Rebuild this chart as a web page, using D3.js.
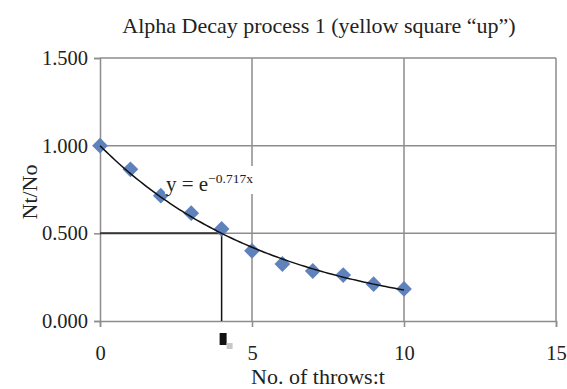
<!DOCTYPE html>
<html><head><meta charset="utf-8">
<script src="https://cdn.jsdelivr.net/npm/d3@7"></script>
<style>body{margin:0;background:#fff}svg{display:block}text{font-family:"Liberation Serif","Times New Roman",serif;fill:#222}</style>
</head><body><svg id="c" width="567" height="389"></svg>
<script>
const title = "Alpha Decay process 1 (yellow square \u201cup\u201d)";
const xLabel = "No. of throws:t";
const yLabel = "Nt/No";
const throws = [0,1,2,3,4,5,6,7,8,9,10];
const ratio = [1.0,0.865,0.715,0.615,0.525,0.40,0.325,0.285,0.262,0.21,0.183];
const xTicks = [0,5,10,15];
const yTicks = [0,0.5,1.0,1.5];
const eqText = "y = e", eqExp = "\u22120.717x";

const svg = d3.select("#c");
const m = {l:100,r:11,t:58,b:68};
const W = 567, H = 389;
const x = d3.scaleLinear().domain([0,15]).range([m.l, W-m.r]);
const y = d3.scaleLinear().domain([0,1.5]).range([H-m.b, m.t]);
const grid = "#8f8b8f";

// gridlines
svg.append("g").selectAll("line").data(yTicks.filter(d=>d>0)).join("line")
  .attr("x1",x(0)).attr("x2",x(15)).attr("y1",d=>y(d)).attr("y2",d=>y(d))
  .attr("stroke",grid).attr("stroke-width",1.5);
svg.append("g").selectAll("line").data(xTicks.filter(d=>d>0)).join("line")
  .attr("y1",y(0)).attr("y2",y(1.5)).attr("x1",d=>x(d)).attr("x2",d=>x(d))
  .attr("stroke",grid).attr("stroke-width",1.5);

// axes
const xa = svg.append("g").attr("transform",`translate(0,${y(0)})`)
  .call(d3.axisBottom(x).tickValues(xTicks).tickSize(6).tickPadding(18).tickFormat(d3.format("d")));
const ya = svg.append("g").attr("transform",`translate(${x(0)},0)`)
  .call(d3.axisLeft(y).tickValues(yTicks).tickSize(6).tickPadding(6).tickFormat(d3.format(".3f")));
[xa,ya].forEach(a=>{
  a.select(".domain").attr("stroke",grid).attr("stroke-width",1.5);
  a.selectAll(".tick line").attr("stroke",grid).attr("stroke-width",1.5);
  a.selectAll(".tick text").attr("font-size",20.5).attr("font-family","Liberation Serif, serif").attr("fill","#222");
});

// exponential fit through origin in log space
const b = d3.sum(throws,(t,i)=>t*Math.log(ratio[i]))/d3.sum(throws,t=>t*t);
const tHalf = Math.log(0.5)/b;

// half-life guides
svg.append("line").attr("x1",x(0)).attr("x2",x(tHalf)).attr("y1",y(0.5)).attr("y2",y(0.5))
  .attr("stroke","#3a3636").attr("stroke-width",2);
svg.append("line").attr("x1",x(tHalf)).attr("x2",x(tHalf)).attr("y1",y(0.5)).attr("y2",y(0))
  .attr("stroke","#111").attr("stroke-width",1.5);
svg.append("rect").attr("x",x(tHalf)-2).attr("y",y(0)+12).attr("width",7).attr("height",12).attr("fill","#111");
svg.append("rect").attr("x",x(tHalf)+5).attr("y",y(0)+22).attr("width",6).attr("height",6).attr("fill","#c8c8c8");

// points
svg.append("g").selectAll("path").data(throws).join("path")
  .attr("d",d3.symbol(d3.symbolSquare,125))
  .attr("transform",(t,i)=>`translate(${x(t)},${y(ratio[i])}) rotate(45)`)
  .attr("fill","#5f82bd");

// trend line
const tt = d3.range(0,10.001,0.1);
svg.append("path").datum(tt)
  .attr("d",d3.line().x(t=>x(t)).y(t=>y(Math.exp(b*t))))
  .attr("fill","none").attr("stroke","#111").attr("stroke-width",1.5);

// equation label
svg.append("rect").attr("x",165).attr("y",166).attr("width",88).attr("height",28).attr("fill","#fff");
const eq = svg.append("text").attr("x",166).attr("y",191).attr("font-size",21);
eq.append("tspan").text(eqText);
eq.append("tspan").attr("dy",-8).attr("font-size",13.5).text(eqExp);

// titles
svg.append("text").attr("x",319).attr("y",33).attr("text-anchor","middle").attr("font-size",22).text(title);
svg.append("text").attr("x",318).attr("y",384).attr("text-anchor","middle").attr("font-size",22).text(xLabel);
svg.append("text").attr("transform","translate(37,192) rotate(-90)").attr("text-anchor","middle").attr("font-size",22).text(yLabel);
</script></body></html>
